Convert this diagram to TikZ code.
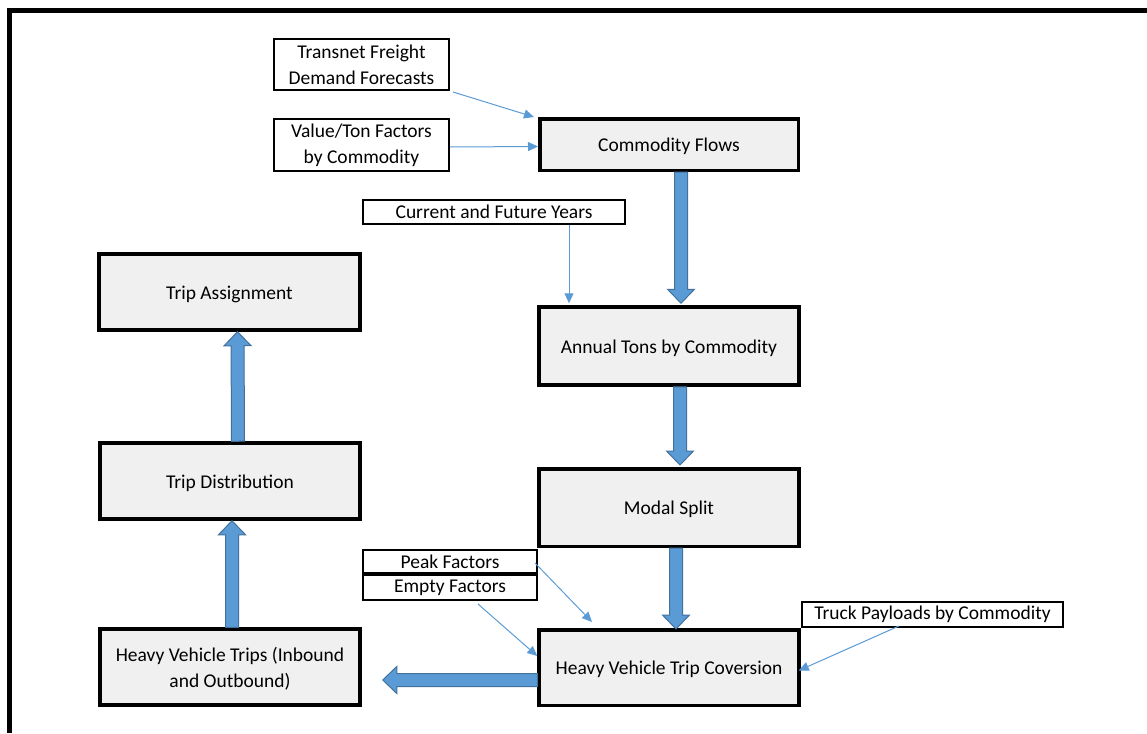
\documentclass[tikz,border=0pt]{standalone}
\usepackage{fontspec}
\setmainfont{Carlito}
\usetikzlibrary{arrows.meta,calc}
\definecolor{ablue}{HTML}{5B9BD5}
\definecolor{aedge}{HTML}{41719C}
\definecolor{boxgray}{HTML}{F0F0F0}
\tikzset{
  boxfont/.style={font=\fontsize{19.5}{26}\selectfont},
  inbox/.style={draw=black, line width=2pt, fill=white, align=center, inner sep=0pt, boxfont},
  mainbox/.style={draw=black, line width=3.5pt, fill=boxgray, align=center, inner sep=0pt, boxfont},
  lowtext/.style={text height=18.5pt, text depth=4pt},
  thinarr/.style={draw=ablue, line width=1pt, -{Triangle[length=10pt,width=9pt]}},
  blockarr/.style={draw=aedge, fill=ablue, line width=1pt, line join=miter},
  frameline/.style={draw=black, line width=5.5pt}
}
\newcommand\barrow[2]{%
  \filldraw[blockarr] let \p1=(#1), \p2=(#2),
    \n1={atan2(\y2-\y1,\x2-\x1)},
    \n2={veclen(\x2-\x1,\y2-\y1)-14pt}
  in ($(\p1)+(\n1+90:6.5pt)$) -- ++(\n1:\n2) -- ++(\n1+90:7pt) -- (\p2)
    -- ($(\p1)+(\n1:\n2)+(\n1-90:13.5pt)$) -- ++(\n1+90:7pt)
    -- ($(\p1)+(\n1-90:6.5pt)$) -- cycle;}
\begin{document}
\begin{tikzpicture}[x=1pt,y=-1pt]
\useasboundingbox (0,0) rectangle (1147,733);
\draw[frameline] (9.5,733) -- (9.5,10.5) -- (1147,10.5);

% input boxes
\node[inbox, minimum width=175pt, minimum height=51pt] (tf) at (361.5,64.5) {Transnet Freight\\Demand Forecasts};
\node[inbox, minimum width=175pt, minimum height=52pt] (vt) at (361.5,145) {Value/Ton Factors\\by Commodity};
\node[inbox, minimum width=262pt, minimum height=24pt] (cy) at (494,212) {Current and Future Years};
\node[inbox, minimum width=261pt, minimum height=25pt] (tp) at (932.5,614.5) {Truck Payloads by Commodity};

% main boxes
\node[mainbox, lowtext, minimum width=258.5pt, minimum height=51.5pt] (cf) at (669,144.5) {Commodity Flows};
\node[mainbox, lowtext, minimum width=260pt, minimum height=78pt] (at) at (669,346) {Annual Tons by Commodity};
\node[mainbox, lowtext, minimum width=260pt, minimum height=77.5pt] (ms) at (669,507.5) {Modal Split};
\node[mainbox, lowtext, minimum width=260pt, minimum height=75.5pt] (hc) at (669,667.5) {Heavy Vehicle Trip Coversion};
\node[mainbox, text height=45.5pt, text depth=4pt, minimum width=260pt, minimum height=76pt] (hv) at (230,667) {Heavy Vehicle Trips (Inbound\\and Outbound)};
\node[mainbox, lowtext, minimum width=260pt, minimum height=76pt] (td) at (230,481) {Trip Distribution};
\node[mainbox, lowtext, minimum width=261pt, minimum height=76pt] (ta) at (229.5,292) {Trip Assignment};

\node[inbox, minimum width=174pt, minimum height=23pt] (pf) at (450,561.5) {Peak Factors};
\node[inbox, minimum width=174pt, minimum height=25pt] (ef) at (450,587.5) {Empty Factors};

% block arrows
\barrow{[xshift=12pt]cf.south}{[xshift=12pt,yshift=2pt]at.north}
\barrow{[xshift=11pt]at.south}{[xshift=11pt,yshift=2pt]ms.north}
\barrow{[xshift=7pt]ms.south}{[xshift=7pt,yshift=-1pt]hc.north}
\barrow{[yshift=-12.5pt]hc.west}{[xshift=21pt,yshift=-13pt]hv.east}
\barrow{[xshift=2pt]hv.north}{[xshift=2pt]td.south}
\barrow{[xshift=8pt]td.north}{[xshift=8pt]ta.south}

% thin arrows
\draw[thinarr] ([xshift=3pt,yshift=-1pt]tf.south east) -- ([xshift=-4pt]cf.north west);
\draw[thinarr] ([yshift=-2pt]vt.east) -- ([yshift=-2pt]cf.west);
\coordinate (cyt) at ([xshift=-100pt,yshift=2pt]at.north);
\draw[thinarr] (cy.south -| cyt) -- (cyt);
\draw[thinarr] ([xshift=-3pt,yshift=-1.5pt]pf.east) -- ([xshift=-77pt,yshift=6pt]hc.north);
\draw[thinarr] ([xshift=28pt,yshift=-3pt]ef.south) -- ([yshift=11.5pt]hc.west);
\draw[thinarr] ([xshift=-33.5pt,yshift=2pt]tp.south) -- ([xshift=-2pt,yshift=-3pt]hc.east);
\end{tikzpicture}
\end{document}
